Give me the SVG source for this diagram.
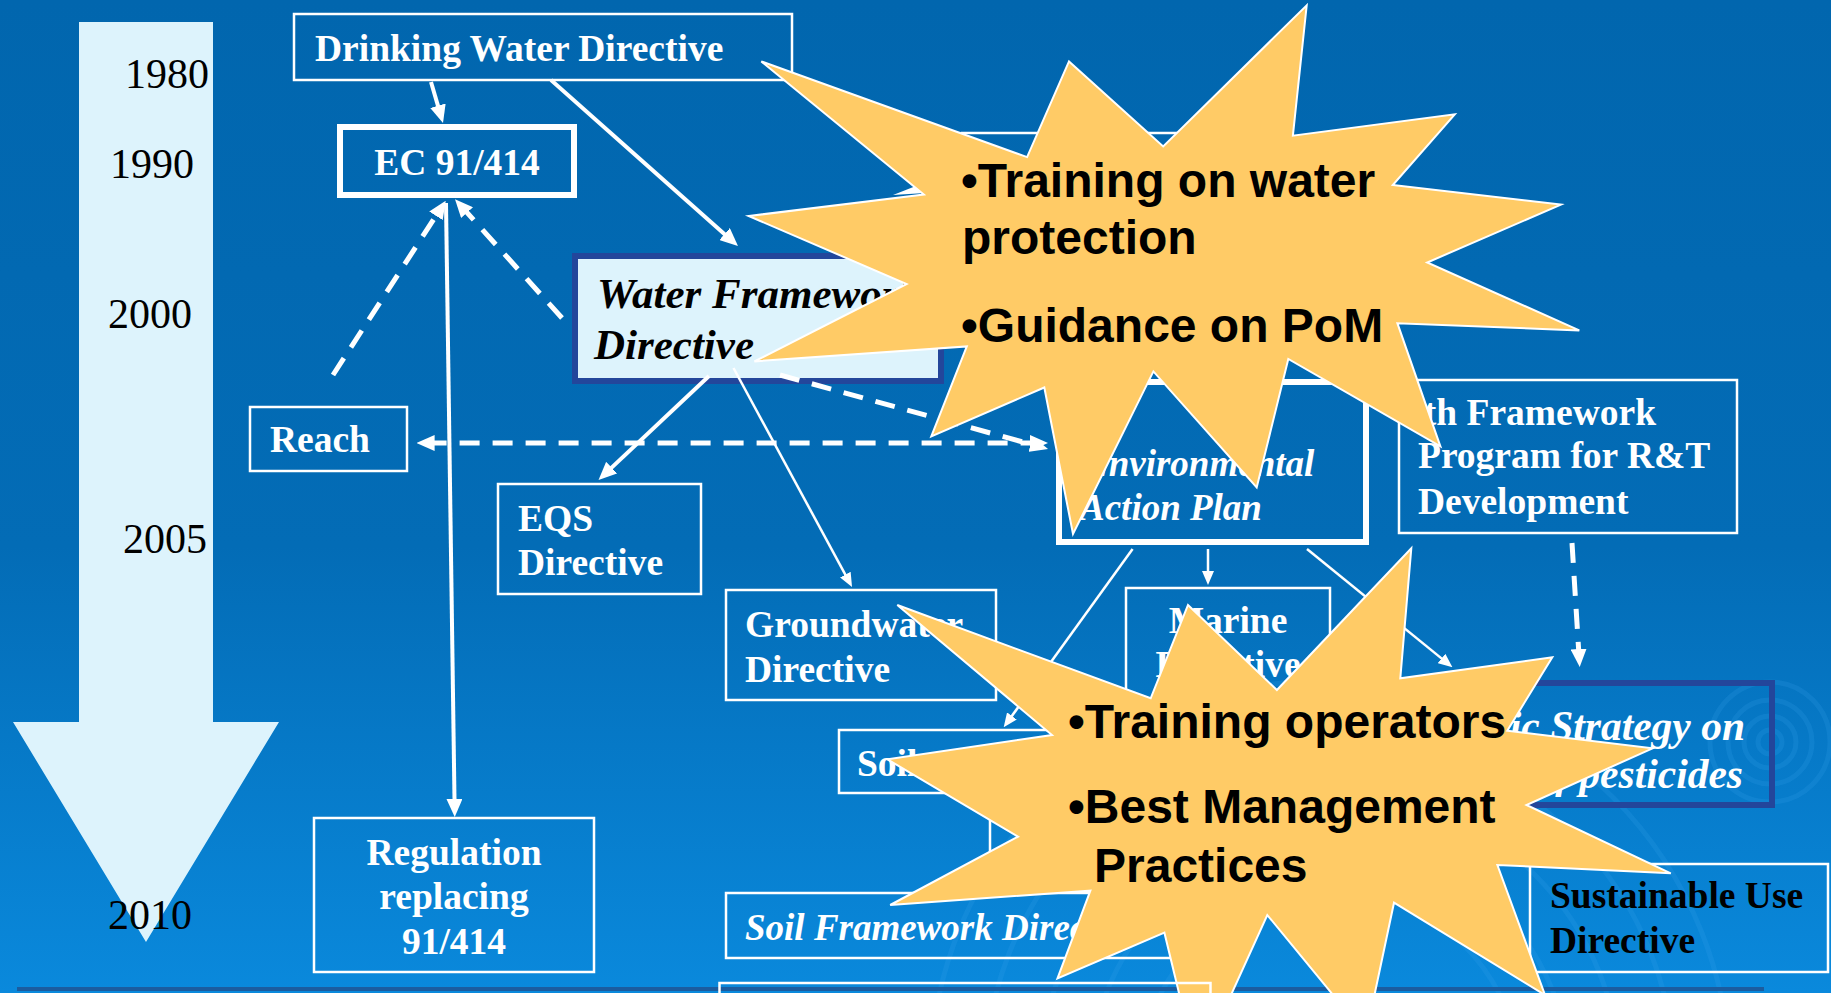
<svg xmlns="http://www.w3.org/2000/svg" width="1831" height="993" viewBox="0 0 1831 993">
<defs>
<linearGradient id="bg" x1="0" y1="0" x2="0" y2="1">
<stop offset="0" stop-color="#0166AE"/>
<stop offset="0.55" stop-color="#036CB6"/>
<stop offset="1" stop-color="#0A89DC"/>
</linearGradient>
<marker id="ah" viewBox="0 0 18 16" refX="8" refY="8" markerWidth="18" markerHeight="16" markerUnits="userSpaceOnUse" orient="auto-start-reverse">
<path d="M0,0 L18,8 L0,16 z" fill="#fff"/>
</marker>
<marker id="as" viewBox="0 0 14 12" refX="7" refY="6" markerWidth="14" markerHeight="12" markerUnits="userSpaceOnUse" orient="auto">
<path d="M0,0 L14,6 L0,12 z" fill="#fff"/>
</marker>
</defs>
<style>
.box{fill:none;stroke:#fff;stroke-width:2.5}
.thick{fill:none;stroke:#fff;stroke-width:6}
.navy{stroke:#23469B;stroke-width:6}
.t{font-family:"Liberation Serif","Times New Roman",serif;font-size:37.5px;font-weight:bold;fill:#fff}
.yr{font-family:"Liberation Serif","Times New Roman",serif;font-size:42px;fill:#000}
.it{font-family:"Liberation Serif","Times New Roman",serif;font-style:italic;font-weight:bold;font-size:37px;fill:#fff}
.wfd{font-family:"Liberation Serif","Times New Roman",serif;font-style:italic;font-weight:bold;font-size:43px;fill:#000}
.star{fill:#FFCB66;stroke:#fff;stroke-width:2;stroke-linejoin:miter}
.st{font-family:"Liberation Sans",Arial,sans-serif;font-weight:bold;font-size:48px;fill:#000}
.c{fill:none;stroke:#fff;stroke-width:4}
.cs{fill:none;stroke:#fff;stroke-width:2.5}
.d{fill:none;stroke:#fff;stroke-width:5;stroke-dasharray:20 13}
.rip{fill:none;stroke:#3FA6EE;stroke-width:5;opacity:0.18}
</style>
<rect x="0" y="0" width="1831" height="993" fill="url(#bg)"/>
<g id="ripples">
<circle class="rip" cx="1770" cy="742" r="12"/>
<circle class="rip" cx="1770" cy="742" r="26"/>
<circle class="rip" cx="1770" cy="742" r="42"/>
<circle class="rip" cx="1770" cy="742" r="60"/>
<circle class="rip" cx="1330" cy="1080" r="190"/>
<circle class="rip" cx="1330" cy="1080" r="240"/>
<circle class="rip" cx="1330" cy="1080" r="290"/>
<circle class="rip" cx="1330" cy="1080" r="345"/>
<circle class="rip" cx="1330" cy="1080" r="400"/>
</g>
<rect x="17" y="987" width="1747" height="4" fill="#1B5C9F"/>
<g id="timeline">
<polygon points="79,22 213,22 213,722 279,722 146,942 13,722 79,722" fill="#DDF3FC"/>
<text class="yr" x="125" y="88">1980</text>
<text class="yr" x="110" y="178">1990</text>
<text class="yr" x="108" y="328">2000</text>
<text class="yr" x="123" y="553">2005</text>
<text class="yr" x="108" y="929">2010</text>
</g>
<g id="node-drinking-water">
<rect class="box" x="294" y="14" width="498" height="66"/>
<text class="t" x="315" y="61">Drinking Water Directive</text>
</g>
<g id="node-ec91414">
<rect class="thick" x="340" y="127" width="234" height="68" stroke-width="5.5"/>
<text class="t" x="457" y="175" text-anchor="middle">EC 91/414</text>
</g>
<g id="node-hidden-top">
<rect class="box" x="962" y="133" width="238" height="170"/>
</g>
<g id="node-wfd">
<rect x="575" y="256" width="366" height="125" fill="#DDF3FC" class="navy"/>
<text class="wfd" x="597" y="308">Water Framework</text>
<text class="wfd" x="594" y="359">Directive</text>
</g>
<g id="node-reach">
<rect class="box" x="250" y="407" width="157" height="64"/>
<text class="t" x="270" y="452">Reach</text>
</g>
<g id="node-eqs">
<rect class="box" x="498" y="484" width="203" height="110"/>
<text class="t" x="518" y="531">EQS</text>
<text class="t" x="518" y="575">Directive</text>
</g>
<g id="node-groundwater">
<rect class="box" x="726" y="590" width="270" height="110"/>
<text class="t" x="745" y="637">Groundwater</text>
<text class="t" x="745" y="682">Directive</text>
</g>
<g id="node-soil">
<rect class="box" x="839" y="730" width="260" height="63"/>
<text class="t" x="857" y="776">Soil</text>
</g>
<g id="node-hidden-mid">
<rect class="box" x="990" y="800" width="200" height="80"/>
</g>
<g id="node-regulation">
<rect class="box" x="314" y="818" width="280" height="154"/>
<text class="t" x="454" y="865" text-anchor="middle">Regulation</text>
<text class="t" x="454" y="909" text-anchor="middle">replacing</text>
<text class="t" x="454" y="954" text-anchor="middle">91/414</text>
</g>
<g id="node-soil-framework">
<rect class="box" x="726" y="893" width="480" height="65"/>
<text class="it" x="745" y="940">Soil Framework Directive</text>
</g>
<g id="node-eap">
<rect class="thick" x="1059" y="382" width="307" height="160"/>
<text class="it" x="1084" y="476">Environmental</text>
<text class="it" x="1080" y="520">Action Plan</text>
</g>
<g id="node-6fp">
<rect class="box" x="1399" y="380" width="338" height="153"/>
<text class="t" x="1405" y="425">6th Framework</text>
<text class="t" x="1418" y="468">Program for R&amp;T</text>
<text class="t" x="1418" y="514">Development</text>
</g>
<g id="node-marine">
<rect class="box" x="1126" y="588" width="204" height="130"/>
<text class="t" x="1228" y="633" text-anchor="middle">Marine</text>
<text class="t" x="1228" y="677" text-anchor="middle">Directive</text>
</g>
<g id="node-thematic">
<rect x="1410" y="683" width="362" height="122" fill="none" class="navy" stroke-width="5"/>
<text class="it" x="1745" y="740" text-anchor="end" font-size="41.5" style="font-size:41.5px">Thematic Strategy on</text>
<text class="it" x="1743" y="788" text-anchor="end" style="font-size:41.5px">use of pesticides</text>
</g>
<g id="node-sustainable">
<rect class="box" x="1530" y="864" width="298" height="108"/>
<text class="t" x="1550" y="908" style="fill:#000">Sustainable Use</text>
<text class="t" x="1550" y="953" style="fill:#000">Directive</text>
</g>
<g id="connectors">
<line class="c" x1="431" y1="82" x2="440.2" y2="113.4" marker-end="url(#ah)"/>
<line class="c" x1="551" y1="80" x2="730.5" y2="239.4" marker-end="url(#ah)"/>
<line class="d" x1="333" y1="375" x2="440.3" y2="209.1" marker-end="url(#ah)"/>
<line class="d" x1="562" y1="318" x2="461.7" y2="206.7" marker-end="url(#ah)"/>
<line class="c" x1="446" y1="203" x2="454.6" y2="807" stroke-width="3.5" marker-end="url(#ah)"/>
<line class="d" x1="426.6" y1="443" x2="1038" y2="443" marker-start="url(#ah)" marker-end="url(#ah)"/>
<line class="d" x1="780" y1="375" x2="1038.4" y2="446.3" marker-end="url(#ah)"/>
<line class="c" x1="709" y1="376" x2="605.8" y2="473.1" marker-end="url(#ah)"/>
<line class="cs" x1="733.5" y1="368" x2="848.7" y2="580.8" marker-end="url(#as)"/>
<line class="cs" x1="1208" y1="549" x2="1208" y2="578" marker-end="url(#as)"/>
<line class="cs" x1="1132.6" y1="549" x2="1007.8" y2="721.6" marker-end="url(#as)"/>
<line class="cs" x1="1307" y1="549" x2="1447" y2="662.9" marker-end="url(#as)"/>
<line class="d" x1="1572" y1="543" x2="1579.1" y2="657" marker-end="url(#ah)"/>
<polygon points="893,195 921,184 925,193" fill="#fff"/>
</g>
<g id="star-water">
<polygon class="star" points="1306.7,5.4 1292.9,135.7 1454.8,114.3 1392.8,185 1561,204.6 1427.2,262.5 1579.3,330.4 1397.4,323.2 1440.4,446.4 1288.3,359 1256.7,487.5 1153.4,371.4 1073,534 1044.3,387.5 931.3,436.4 966.8,346.4 754.4,361.4 906.6,284 748.7,216 923.8,194.6 761.3,61.4 1027.1,157.1 1069,61.4 1163.2,146.4"/>
<text class="st" x="961" y="197">•Training on water</text>
<text class="st" x="962" y="254">protection</text>
<text class="st" x="961" y="342">•Guidance on PoM</text>
</g>
<g id="star-operators">
<polygon class="star" points="1411.3,548.3 1400.3,678.3 1552.3,657.3 1507.3,730.7 1652.6,748.3 1526.5,805 1670.8,873.3 1497.4,865 1545,995 1394,902.7 1366,1035 1267.3,915 1197.4,1069 1164.4,932.7 1057.5,978.3 1090.4,890.7 890.2,905 1018,836.7 887.4,759.3 1052,735 897.3,605 1150.7,698.3 1188,605 1276.9,690"/>
<text class="st" x="1068" y="738">•Training operators</text>
<text class="st" x="1068" y="823">•Best Management</text>
<text class="st" x="1094" y="882">Practices</text>
</g>
<g id="node-bottom">
<rect class="box" x="719.5" y="983" width="491" height="30"/>
</g>
</svg>
